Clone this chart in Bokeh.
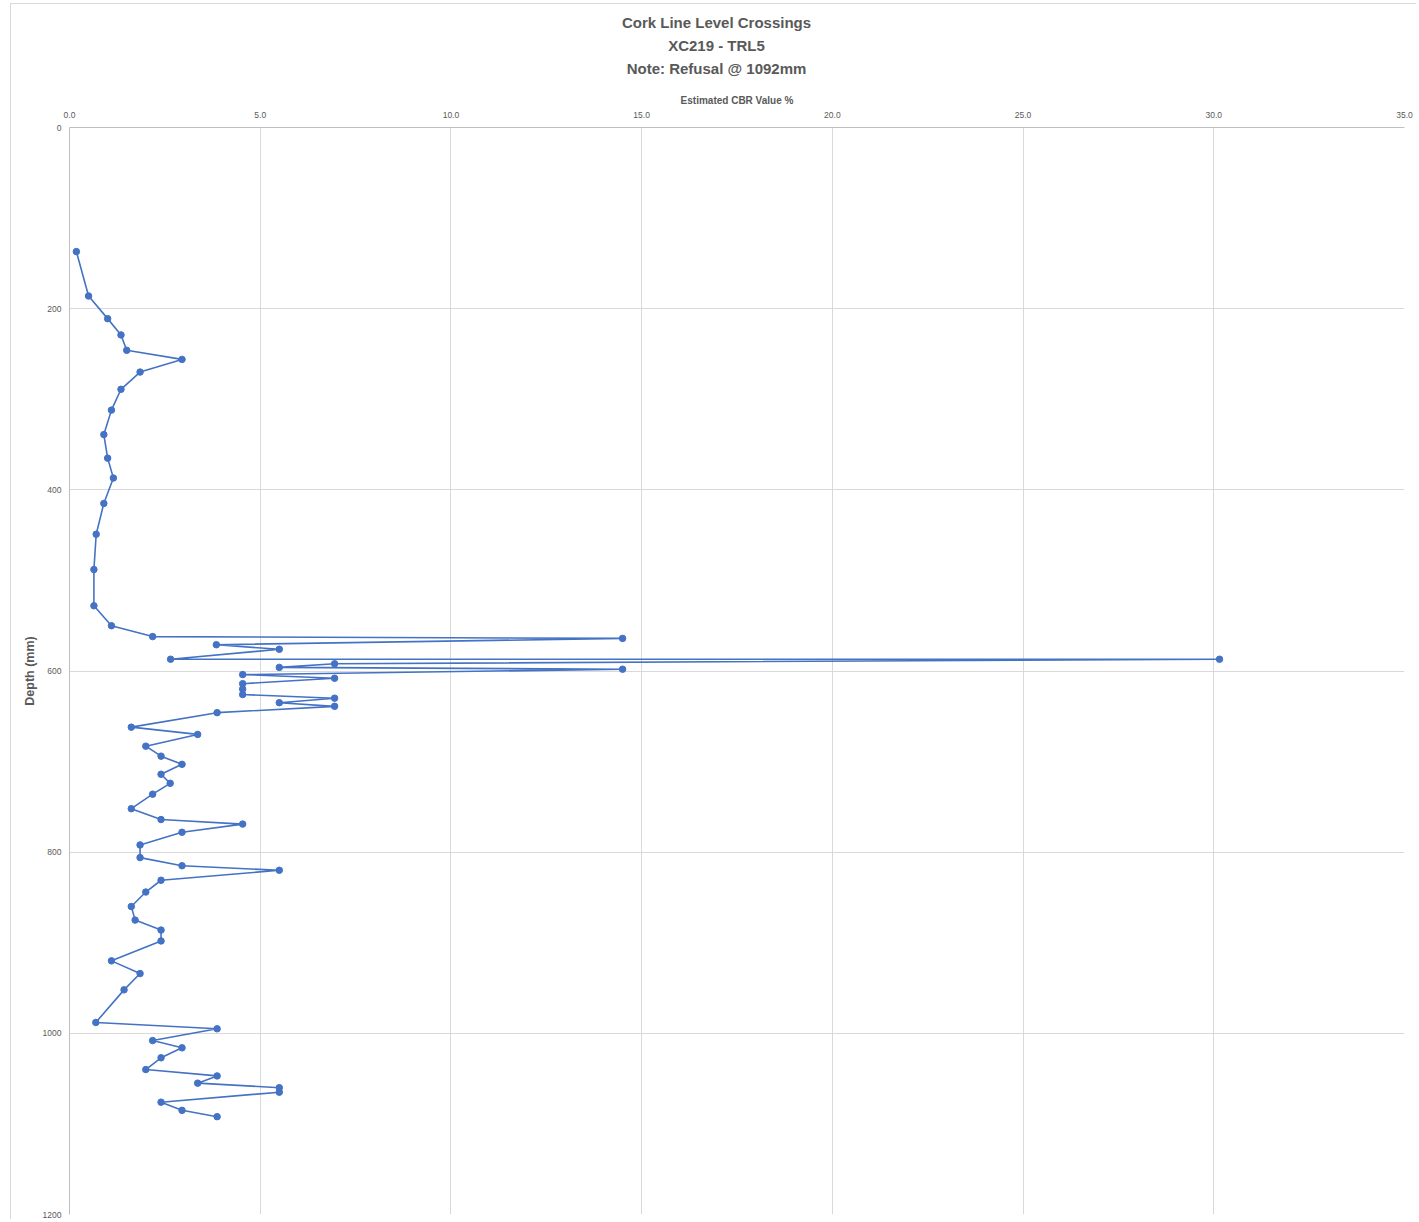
from bokeh.plotting import figure
from bokeh.models import Range1d, FixedTicker, NumeralTickFormatter, Title, ColumnDataSource
from bokeh.embed import file_html
from bokeh.resources import INLINE

# ---- data ----
depth_mm = [137, 186, 211, 229, 246, 256, 270, 289, 312, 339, 365, 387, 415, 449, 488, 528,
            550, 562, 564, 571, 576, 587, 587, 592, 596, 598, 604, 608, 614, 620, 626, 630,
            635, 639, 646, 662, 670, 683, 694, 703, 714, 724, 736, 752, 764, 769, 778, 792,
            806, 815, 820, 831, 844, 860, 875, 886, 898, 920, 934, 952, 988, 995, 1008, 1016,
            1027, 1040, 1047, 1055, 1060, 1065, 1076, 1085, 1092]
cbr_pct = [0.18, 0.50, 1.00, 1.35, 1.50, 2.95, 1.85, 1.35, 1.10, 0.90, 1.00, 1.15, 0.90, 0.70, 0.64, 0.64,
           1.10, 2.18, 14.50, 3.85, 5.50, 2.65, 30.15, 6.95, 5.50, 14.50, 4.54, 6.95, 4.54, 4.54, 4.54, 6.95,
           5.50, 6.95, 3.87, 1.62, 3.36, 2.00, 2.40, 2.95, 2.40, 2.64, 2.18, 1.62, 2.40, 4.54, 2.95, 1.85,
           1.85, 2.95, 5.50, 2.40, 2.00, 1.62, 1.72, 2.40, 2.40, 1.10, 1.85, 1.43, 0.69, 3.87, 2.18, 2.95,
           2.40, 2.00, 3.87, 3.36, 5.50, 5.50, 2.40, 2.95, 3.87]
x_ticks = [0, 5, 10, 15, 20, 25, 30, 35]
y_ticks = [0, 200, 400, 600, 800, 1000, 1200]
title_lines = ["Cork Line Level Crossings", "XC219 - TRL5", "Note: Refusal @ 1092mm"]
x_title = "Estimated CBR Value %"
y_title = "Depth (mm)"

# ---- layout ----
W, H = 1406, 1216
ML, MR, MT, MB = 58, 13, 123, 6
X_MAX, Y_MAX = 35, 1200

GREY_TXT = "#595959"
GRID = "#d9d9d9"
AXIS = "#bfbfbf"
BLUE = "#4472C4"
FONT = "Liberation Sans"
TITLE_PX = 15
TITLE_CENTER = 716 - 11 - ML   # title centre, px right of the frame's left edge

# approximate advance widths (per 1000 em) of Liberation Sans Bold, for centring titles
_ADV = {" ": 278, "-": 333, ".": 278, ":": 333, "@": 975, "C": 722, "L": 611, "N": 722,
        "R": 722, "T": 611, "X": 667, "a": 556, "e": 556, "f": 333, "g": 611, "i": 278,
        "k": 556, "l": 278, "m": 889, "n": 611, "o": 611, "r": 389, "s": 556, "t": 333,
        "u": 611, "v": 556}


def text_width(s, px):
    return sum(_ADV.get(ch, 556) for ch in s) * px / 1000.0


p = figure(width=W, height=H, output_backend="svg", toolbar_location=None,
           x_range=Range1d(0, X_MAX), y_range=Range1d(Y_MAX, 0),
           x_axis_location="above",
           min_border_left=ML, min_border_right=MR, min_border_top=MT, min_border_bottom=MB)
p.outline_line_color = None
p.background_fill_color = "white"
p.border_fill_color = "white"
p.styles = {"margin-left": "10px", "margin-top": "3px",
            "border-left": "1px solid #d9d9d9", "border-top": "1px solid #d9d9d9"}

src = ColumnDataSource(dict(x=cbr_pct, y=depth_mm))
p.line("x", "y", source=src, line_color=BLUE, line_width=1.6)
p.scatter("x", "y", source=src, size=6.5, fill_color=BLUE, line_color=BLUE)

# axes
xa = p.xaxis[0]
xa.ticker = FixedTicker(ticks=x_ticks)
xa.formatter = NumeralTickFormatter(format="0.0")
xa.axis_label = x_title
ya = p.yaxis[0]
ya.ticker = FixedTicker(ticks=y_ticks)
ya.formatter = NumeralTickFormatter(format="0")
ya.axis_label = y_title
for ax in (xa, ya):
    ax.major_tick_line_color = None
    ax.minor_tick_line_color = None
    ax.major_tick_out = 0
    ax.major_tick_in = 0
    ax.axis_line_color = AXIS
    ax.axis_line_width = 1
    ax.major_label_text_font = FONT
    ax.major_label_text_font_size = "8.5px"
    ax.major_label_text_color = GREY_TXT
    ax.axis_label_text_font = FONT
    ax.axis_label_text_font_style = "bold"
    ax.axis_label_text_color = GREY_TXT
xa.major_label_standoff = 10
xa.axis_label_standoff = 3
xa.axis_label_text_font_size = "10px"
ya.major_label_standoff = 8
ya.axis_label_standoff = 3
ya.axis_label_text_font_size = "12.5px"

for g in (p.xgrid[0], p.ygrid[0]):
    g.grid_line_color = GRID
    g.grid_line_width = 1
p.xgrid[0].ticker = FixedTicker(ticks=x_ticks)
p.ygrid[0].ticker = FixedTicker(ticks=y_ticks)

# gap between the axis title and the chart title
p.add_layout(Title(text=" ", text_font_size="1px", standoff=10), "above")
# chart title: three lines, each centred on the chart area (added nearest-first)
for line in reversed(title_lines):
    p.add_layout(Title(text=line, align="left",
                       offset=TITLE_CENTER - text_width(line, TITLE_PX) / 2,
                       text_font=FONT, text_font_style="bold",
                       text_font_size=f"{TITLE_PX}px", text_color=GREY_TXT,
                       standoff=3.5), "above")

open("out.html", "w").write(file_html(p, INLINE))
